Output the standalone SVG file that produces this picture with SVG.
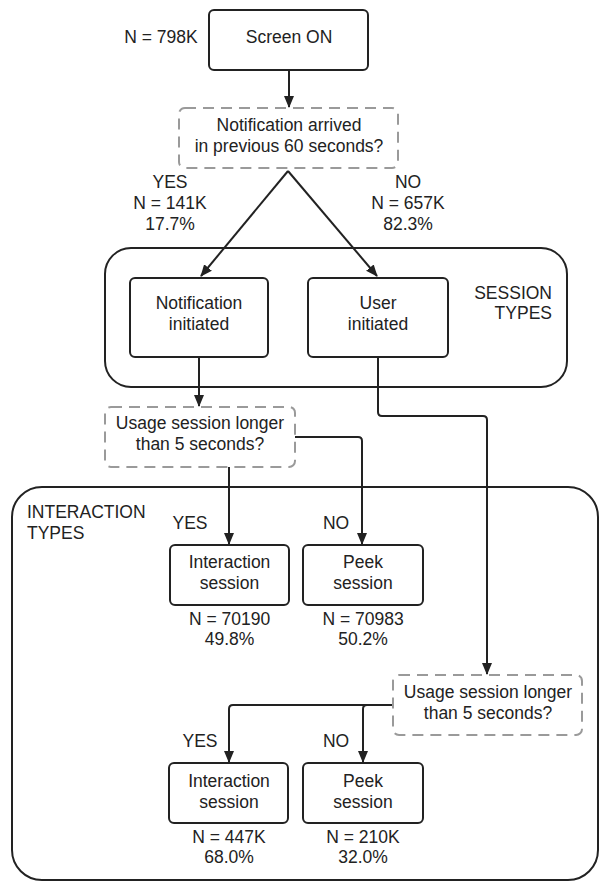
<svg xmlns="http://www.w3.org/2000/svg" width="600" height="882" viewBox="0 0 600 882">
<style>
text{font-family:"Liberation Sans",Arial,sans-serif;font-size:17.5px;fill:#222;text-anchor:middle}
.box{fill:#fff;stroke:#222;stroke-width:2}
.dash{fill:#fff;stroke:#9a9a9a;stroke-width:2;stroke-dasharray:11 7}
.group{fill:none;stroke:#222;stroke-width:2}
.conn{fill:none;stroke:#222;stroke-width:2;stroke-linejoin:round}
.l{text-anchor:start}
.r{text-anchor:end}
</style>
<defs>
<marker id="arr" viewBox="0 0 12 12" refX="11" refY="6" markerWidth="12" markerHeight="12" markerUnits="userSpaceOnUse" orient="auto">
<path d="M0,1 L12,6 L0,11 Z" fill="#222"/>
</marker>
</defs>
<rect width="600" height="882" fill="#fff"/>
<g id="session-types">
<rect class="group" x="105" y="248" width="462" height="139" rx="26"/>
<text class="r" x="552" y="299">SESSION</text>
<text class="r" x="552" y="319">TYPES</text>
</g>
<g id="interaction-types">
<rect class="group" x="12" y="487" width="586" height="393" rx="30"/>
<text class="l" x="27" y="518">INTERACTION</text>
<text class="l" x="27" y="539">TYPES</text>
</g>
<g id="connectors">
<path class="conn" d="M289,70 V107" marker-end="url(#arr)"/>
<path class="conn" d="M288,171 L201,276" marker-end="url(#arr)"/>
<path class="conn" d="M288,171 L377,276" marker-end="url(#arr)"/>
<path class="conn" d="M199,357 V406" marker-end="url(#arr)"/>
<path class="conn" d="M378,357 V412 Q378,416 382,416 H483 Q487,416 487,420 V674" marker-end="url(#arr)"/>
<path class="conn" d="M229,467 V544" marker-end="url(#arr)"/>
<path class="conn" d="M295,437 H358 Q362,437 362,441 V544" marker-end="url(#arr)"/>
<path class="conn" d="M393,705 H233 Q229,705 229,709 V762" marker-end="url(#arr)"/>
<path class="conn" d="M367,705 Q363,705 363,709 V762" marker-end="url(#arr)"/>
<text x="170" y="188">YES</text>
<text x="170" y="209">N = 141K</text>
<text x="170" y="230">17.7%</text>
<text x="408" y="188">NO</text>
<text x="408" y="209">N = 657K</text>
<text x="408" y="230">82.3%</text>
<text x="190" y="529">YES</text>
<text x="336" y="529">NO</text>
<text x="200" y="747">YES</text>
<text x="336" y="747">NO</text>
</g>
<g id="screen-on">
<rect class="box" x="209" y="10" width="159" height="60" rx="5"/>
<text x="289" y="43">Screen ON</text>
<text x="161" y="43">N = 798K</text>
</g>
<g id="notif-question">
<rect class="dash" x="179" y="108" width="219" height="60" rx="6"/>
<text x="289" y="131">Notification arrived</text>
<text x="289" y="152">in previous 60 seconds?</text>
</g>
<g id="notif-initiated">
<rect class="box" x="130" y="278" width="138" height="79" rx="5"/>
<text x="199" y="309">Notification</text>
<text x="199" y="330">initiated</text>
</g>
<g id="user-initiated">
<rect class="box" x="308" y="278" width="140" height="79" rx="5"/>
<text x="378" y="309">User</text>
<text x="378" y="330">initiated</text>
</g>
<g id="usage-q1">
<rect class="dash" x="105" y="407" width="190" height="60" rx="6"/>
<text x="200" y="429">Usage session longer</text>
<text x="200" y="450">than 5 seconds?</text>
</g>
<g id="interaction1">
<rect class="box" x="170" y="545" width="119" height="60" rx="5"/>
<text x="229.5" y="568">Interaction</text>
<text x="229.5" y="589">session</text>
<text x="229.5" y="625">N = 70190</text>
<text x="229.5" y="645">49.8%</text>
</g>
<g id="peek1">
<rect class="box" x="303" y="545" width="120" height="60" rx="5"/>
<text x="363" y="568">Peek</text>
<text x="363" y="589">session</text>
<text x="363" y="625">N = 70983</text>
<text x="363" y="645">50.2%</text>
</g>
<g id="usage-q2">
<rect class="dash" x="393" y="675" width="189" height="60" rx="6"/>
<text x="488" y="698">Usage session longer</text>
<text x="488" y="719">than 5 seconds?</text>
</g>
<g id="interaction2">
<rect class="box" x="169" y="763" width="119" height="60" rx="5"/>
<text x="229" y="787">Interaction</text>
<text x="229" y="808">session</text>
<text x="229" y="843">N = 447K</text>
<text x="229" y="863">68.0%</text>
</g>
<g id="peek2">
<rect class="box" x="303" y="763" width="120" height="60" rx="5"/>
<text x="363" y="787">Peek</text>
<text x="363" y="808">session</text>
<text x="363" y="843">N = 210K</text>
<text x="363" y="863">32.0%</text>
</g>
</svg>
